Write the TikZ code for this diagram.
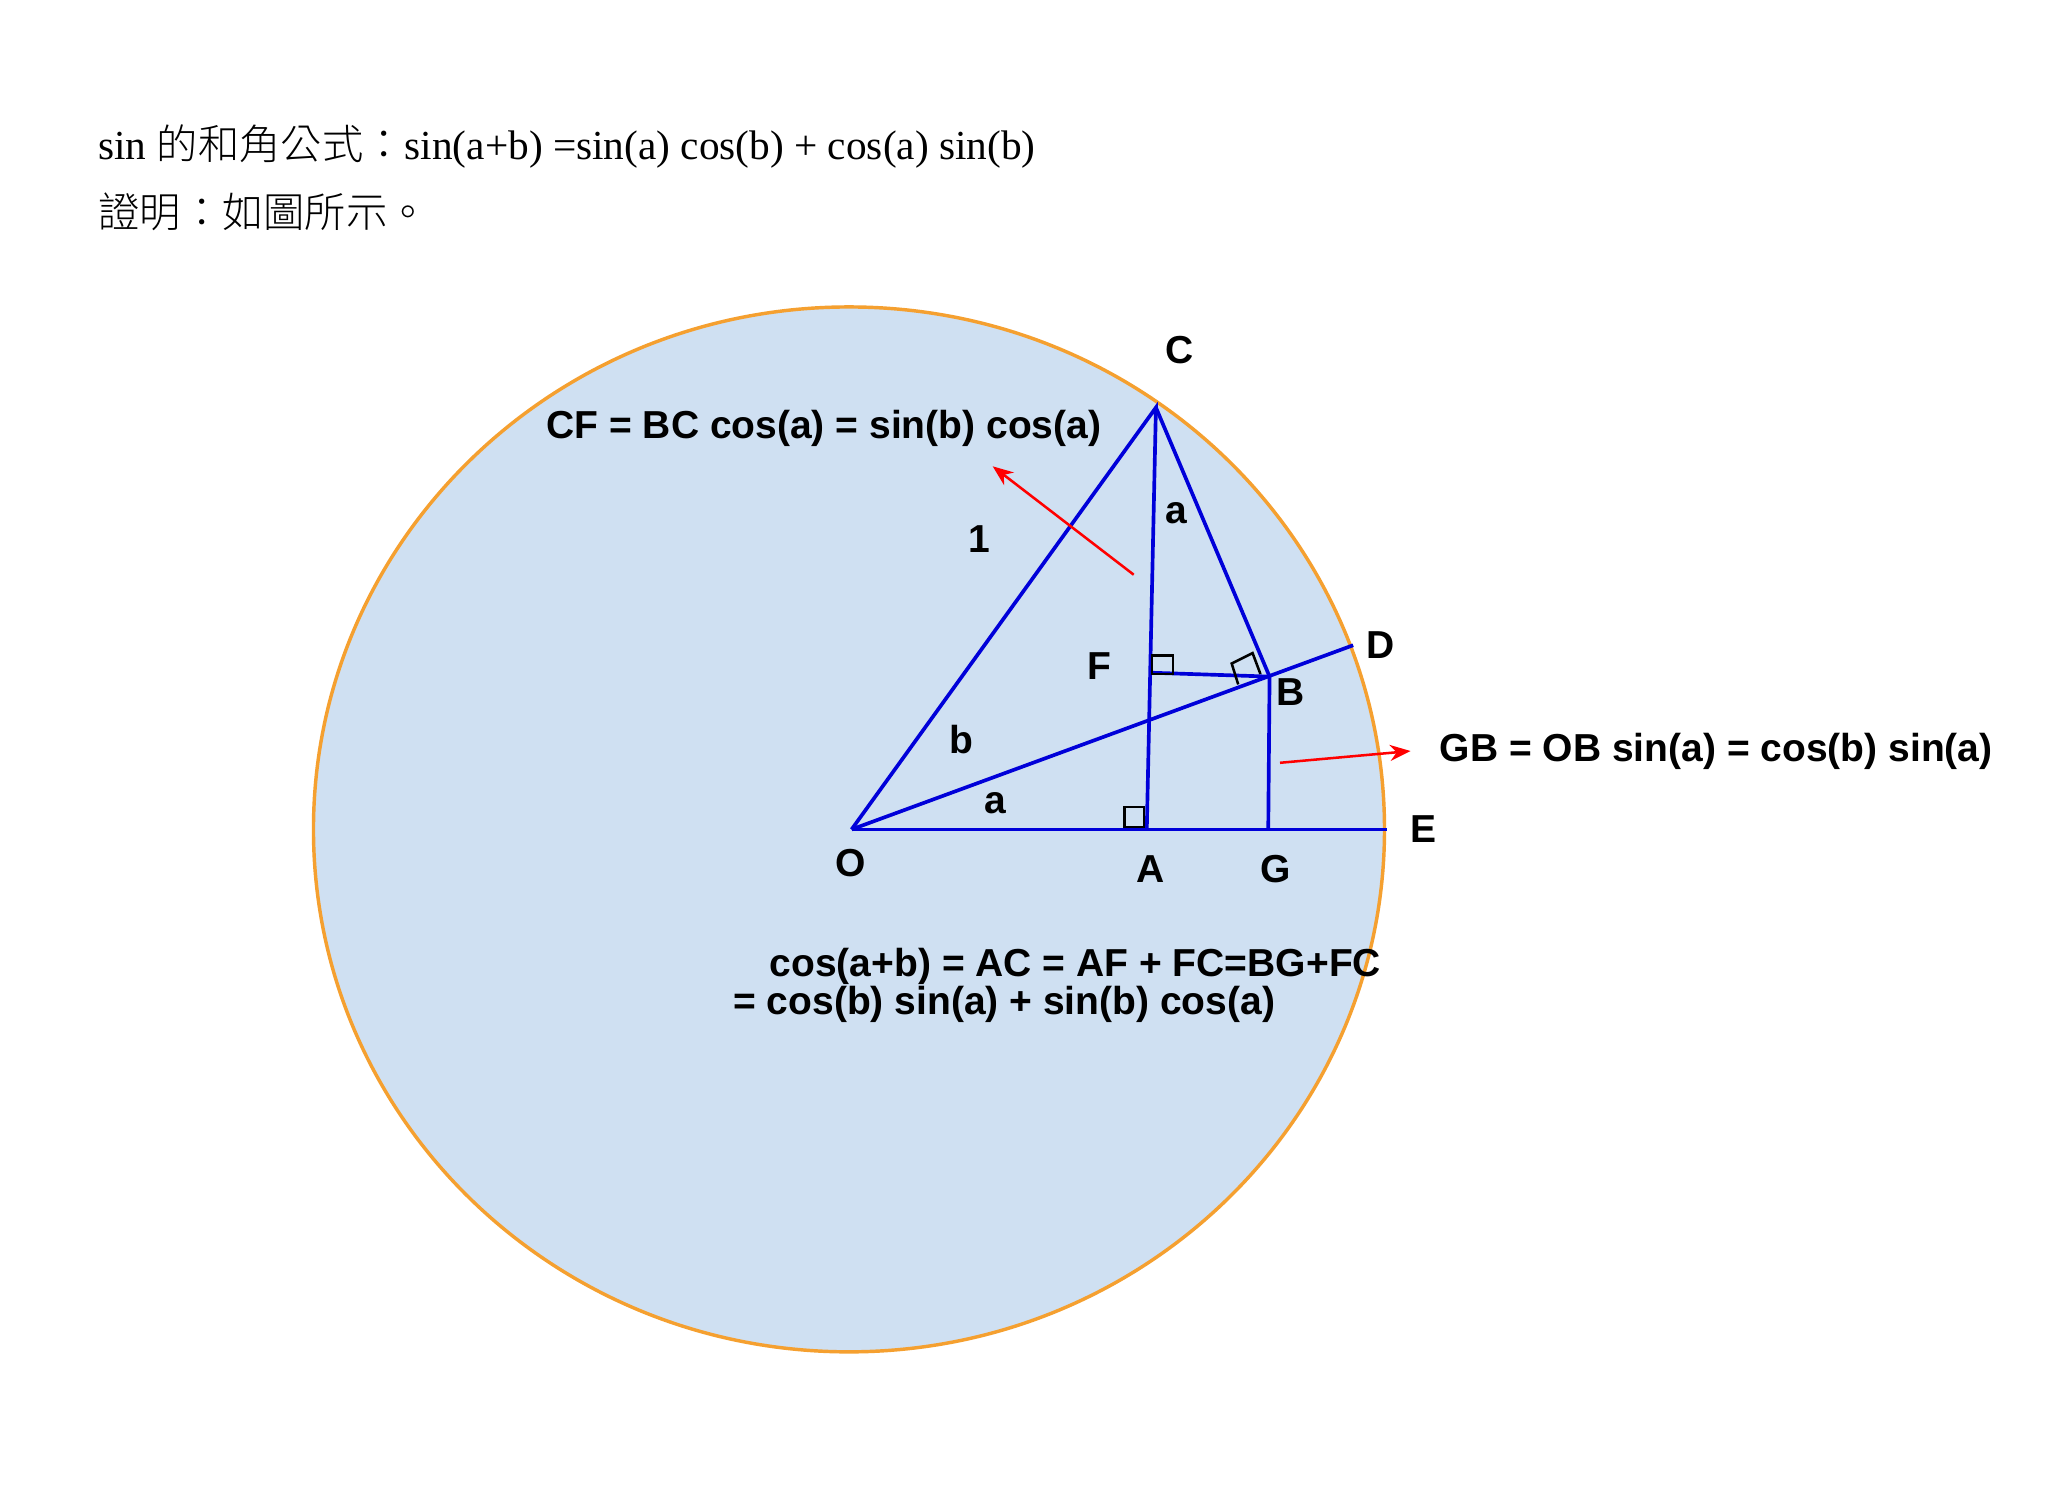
\documentclass[tikz,border=0pt]{standalone}
\usepackage{fontspec}
\setmainfont{Liberation Serif}
\newfontfamily\cjk{Noto Sans CJK TC Light}
\newfontfamily\lab{Liberation Sans}
\usetikzlibrary{arrows.meta}
\definecolor{fillc}{HTML}{CFE0F2}
\definecolor{rimc}{HTML}{F5A030}
\begin{document}
\begin{tikzpicture}[x=0.02cm,y=-0.02cm,
  seg/.style={blue!85!black,line width=1.6pt},
  lbl/.style={font=\lab\bfseries\fontsize{17}{19}\selectfont,inner sep=0pt},
  redarr/.style={red,line width=1.1pt,-{Stealth[length=9pt,width=7pt]}},
  sq/.style={black,line width=1.1pt}]
\useasboundingbox (0,0) rectangle (1568,1157);
\fill[white] (0,0) rectangle (1568,1157);
\node[anchor=west,inner sep=0pt,font=\fontsize{18}{21}\selectfont] (t1) at (75,112) {sin {\cjk 的和角公式：}sin(a+b) =sin(a) cos(b) + cos(a) sin(b)};
\node[anchor=west,inner sep=0pt,font=\fontsize{18}{21}\selectfont] (t2) at (75,162) {\cjk 證明：如圖所示。};
\fill[fillc] (650,635) ellipse [x radius=410,y radius=400];
\draw[rimc,line width=1.5pt] (650,635) ellipse [x radius=410,y radius=400];
\coordinate (O) at (652,635);
\coordinate (E) at (1062,635);
\coordinate (C) at (885,312);
\coordinate (A) at (878,635);
\coordinate (F) at (880,515);
\coordinate (B) at (972,518);
\coordinate (G) at (971,635);
\coordinate (D) at (1036,494);
\draw[seg] (O)--(E);
\draw[seg] (O)--(C)--(A);
\draw[seg] (C)--(B)--(G);
\draw[seg] (O)--(D);
\draw[seg] (F)--(B);
\draw[sq] (861,618) rectangle (876,633);
\draw[sq] (882,502) rectangle (898,516);
\draw[sq] (948,524)--(943,508)--(959,500)--(965,516);
\draw[redarr] (868,440)--(760,357);
\draw[redarr] (980,584)--(1080,575);
\node[lbl] (lC) at (903,268) {C};
\node[lbl] (lD) at (1057,494) {D};
\node[lbl] (lB) at (988,530) {B};
\node[lbl] (lE) at (1090,635) {E};
\node[lbl] (lO) at (651,661) {O};
\node[lbl] (lA) at (881,665) {A};
\node[lbl] (lG) at (977,665) {G};
\node[lbl] (lF) at (842,510) {F};
\node[lbl] (l1) at (750,413) {1};
\node[lbl] (la1) at (901,393) {a};
\node[lbl] (lb) at (736,566) {b};
\node[lbl] (la2) at (762,615) {a};
\node[lbl,anchor=west] (cf) at (418,328) {CF = BC cos(a) = sin(b) cos(a)};
\node[lbl,anchor=west] (gb) at (1102,575) {GB = OB sin(a) = cos(b) sin(a)};
\node[lbl,anchor=west] (c1) at (589,740) {cos(a+b) = AC = AF + FC=BG+FC};
\node[lbl,anchor=west] (c2) at (561,769) {= cos(b) sin(a) + sin(b) cos(a)};
\end{tikzpicture}
\end{document}
